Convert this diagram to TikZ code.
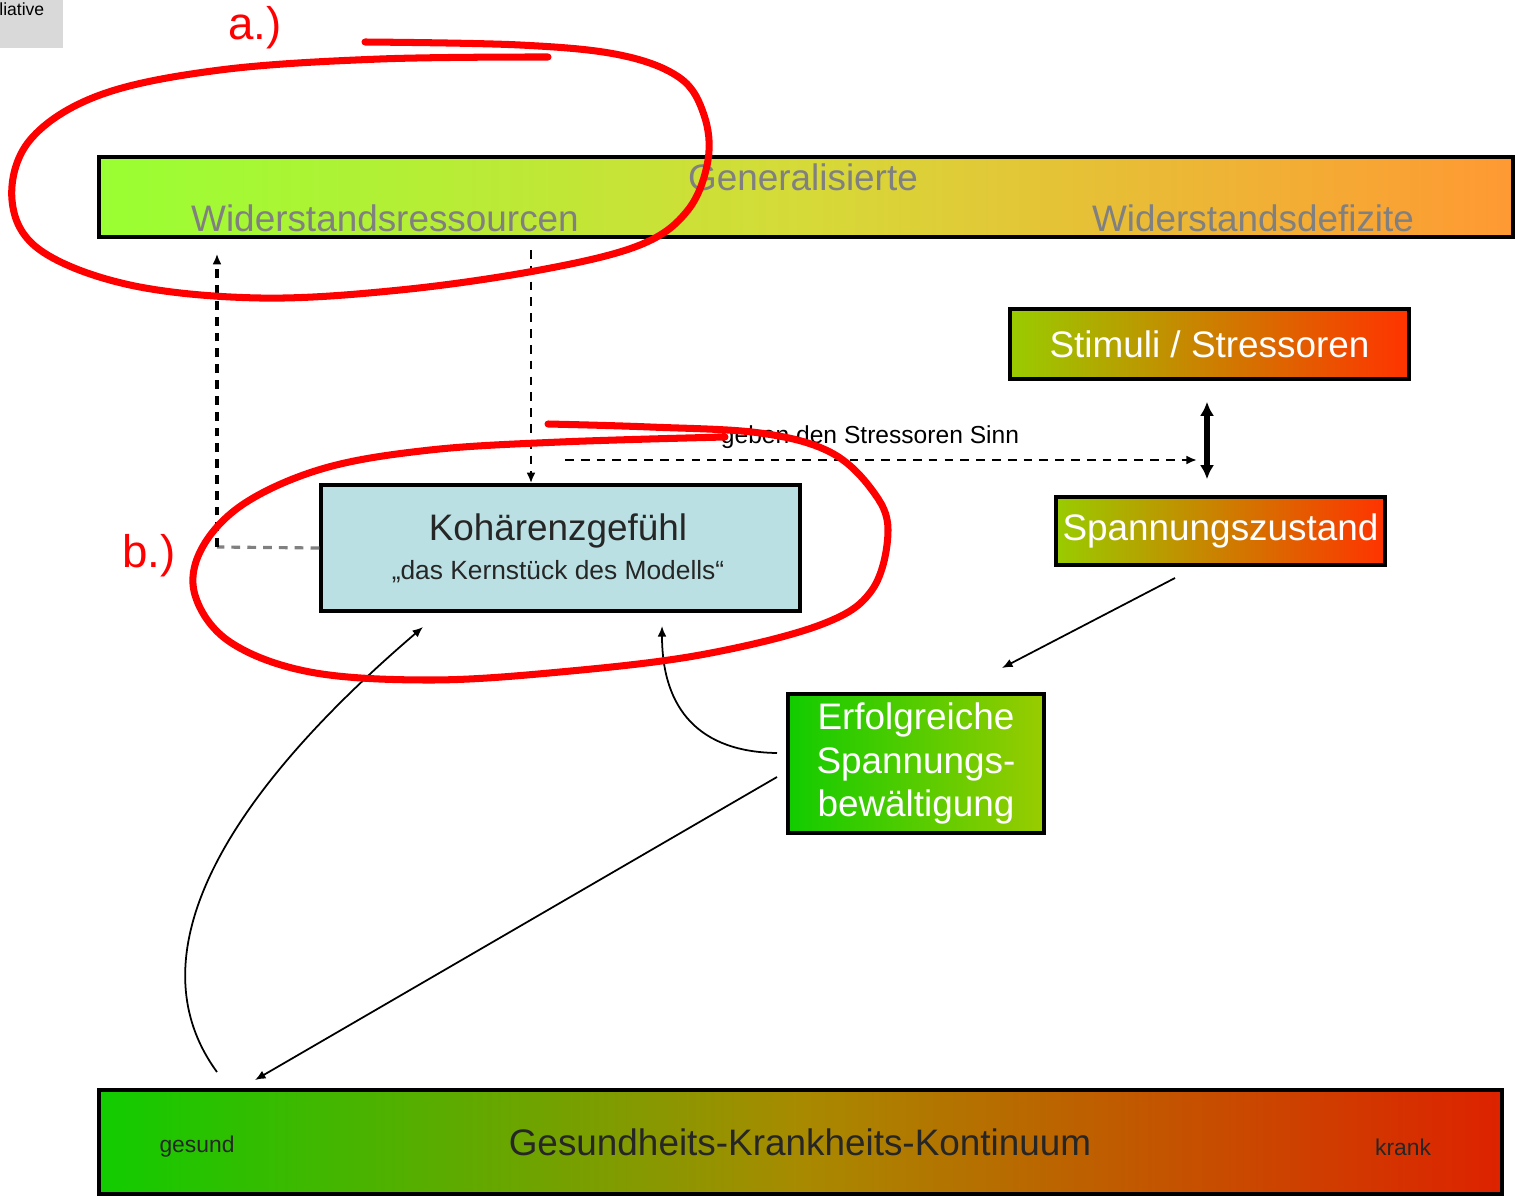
\documentclass[tikz,border=0pt]{standalone}
\usepackage{fontspec}
\setmainfont{Liberation Sans}
\usetikzlibrary{arrows.meta,calc}

\definecolor{barleft}{HTML}{99FF33}
\definecolor{barmid}{HTML}{D6DA38}
\definecolor{barright}{HTML}{FF9933}
\definecolor{stressleft}{HTML}{99CC00}
\definecolor{stressright}{HTML}{FF3300}
\definecolor{okleft}{HTML}{11CC00}
\definecolor{okright}{HTML}{99CC00}
\definecolor{healthmid}{HTML}{A88A00}
\definecolor{sick}{HTML}{DD2200}
\definecolor{coreblue}{HTML}{BAE0E3}
\definecolor{bartext}{HTML}{808080}
\definecolor{markred}{HTML}{FF0000}

\tikzset{
    bar/.style={draw=black, line width=2pt, inner sep=0pt},
    stressbox/.style={bar, left color=stressleft, right color=stressright,
        text=white, font=\fontsize{21}{24}\selectfont},
    dashline/.style={line width=1.8pt, dash pattern=on 5pt off 4pt},
    thinarrow/.style={line width=1pt, -{Latex[length=6pt,width=5pt]}},
    marker/.style={markred, line width=4pt, line cap=round, line join=round}
}

\begin{document}
\begin{tikzpicture}[x=0.02cm, y=-0.02cm]
    \useasboundingbox (0,0) rectangle (1518,1196);

    % Corner label
    \fill[gray!30] (0,0) rectangle (63,48);
    \node[anchor=west, inner sep=0pt, font=\fontsize{10}{12}\selectfont] (corner) at (-1,9) {liative};

    % Boxes
    \node[bar, minimum width=28.28cm, minimum height=1.6cm,
        left color=barleft, right color=barright, middle color=barmid] (ressourcen) at (806,197) {};
    \node[stressbox, minimum width=7.98cm, minimum height=1.4cm] (stimuli) at (1209.5,344) {Stimuli / Stressoren};
    \node[stressbox, minimum width=6.58cm, minimum height=1.36cm] (spannung) at (1220.5,531) {Spannungszustand};
    \node[bar, fill=coreblue, minimum width=9.58cm, minimum height=2.52cm] (kohaerenz) at (560.5,548) {};
    \node[bar, left color=okleft, right color=okright, text=white, align=center,
        minimum width=5.12cm, minimum height=2.78cm,
        font=\fontsize{21}{25}\selectfont] (erfolg) at (916,763.5) {Erfolgreiche\\Spannungs-\\bewältigung};
    \node[bar, left color=okleft, right color=sick, middle color=healthmid,
        minimum width=28.06cm, minimum height=2.08cm] (kontinuum) at (800.5,1142) {};

    % Texts in the boxes
    \node[text=bartext, font=\fontsize{21}{24}\selectfont] (general) at (803,177) {Generalisierte};
    \node[text=bartext, font=\fontsize{21}{24}\selectfont] (widres) at (385,218) {Widerstandsressourcen};
    \node[text=bartext, font=\fontsize{21}{24}\selectfont] (widdef) at (1253,218) {Widerstandsdefizite};
    \node[text=black!85, font=\fontsize{21}{24}\selectfont] (koh) at (558,531) {Kohärenzgefühl};
    \node[text=black!85, font=\fontsize{15}{18}\selectfont] (kern) at (558,572) {„das Kernstück des Modells“};
    \node[text=black!85, font=\fontsize{21}{24}\selectfont] (gkk) at (800,1142) {Gesundheits-Krankheits-Kontinuum};
    \node[text=black!85, font=\fontsize{13}{15}\selectfont] (gesund) at (197,1147) {gesund};
    \node[text=black!85, font=\fontsize{13}{15}\selectfont] (krank) at (1403,1147) {krank};

    % Dashed links
    \coordinate (knick) at (217,547);
    \coordinate (sinnTop) at (531,250);
    \coordinate (sinnStart) at (565,460);
    \coordinate (sinnEnd) at (1197,460);
    \draw[dashline, gray] (kohaerenz.west) -- (knick);
    \draw[dashline, -{Latex[length=6pt,width=5pt]}, shorten >=0.3cm] (knick) -- (knick |- ressourcen.south);
    \draw[dashline, line width=1.4pt, -{Latex[length=6pt,width=5pt]}] (sinnTop) -- (sinnTop |- kohaerenz.north);
    \draw[dashline, line width=1.4pt, -{Latex[length=6pt,width=5pt]}] (sinnStart) -- (sinnEnd);
    \node[font=\fontsize{14}{16}\selectfont] (sinn) at (870,437) {geben den Stressoren Sinn};

    % Stress arrows
    \draw[line width=3pt, {Latex[length=8pt,width=8pt]}-{Latex[length=8pt,width=8pt]},
        shorten <=0.42cm, shorten >=0.32cm] ([xshift=-0.05cm]stimuli.south) -- ([xshift=-0.05cm]stimuli.south |- spannung.north);
    \coordinate (spOut) at (1175,578);
    \coordinate (erIn) at (1002,668);
    \draw[thinarrow] (spOut) -- (erIn);

    % Coping arrows
    \coordinate (erOutA) at (777,753);
    \coordinate (erOutB) at (777,777);
    \coordinate (kohInA) at (662,626);
    \coordinate (kohInB) at (423,627);
    \coordinate (kontIn) at (255,1080);
    \coordinate (kontOut) at (217,1072);
    \draw[thinarrow] (erOutA) .. controls (700,752) and (662,710) .. (kohInA);
    \draw[thinarrow] (erOutB) -- (kontIn);
    \draw[thinarrow] (kontOut) .. controls (135,960) and (215,805) .. (kohInB);

    % Red marks
    \draw[marker] plot[smooth, tension=0.6] coordinates {(365,42) (520,45) (620,55) (680,78) (704,115) (708,160)
        (688,210) (640,245) (540,270) (400,290) (260,298) (130,285) (40,250) (12,200) (30,140) (100,95)
        (220,70) (380,59) (548,57)};
    \draw[marker] plot[smooth, tension=0.6] coordinates {(548,424) (650,427) (760,433) (830,452) (872,490)
        (888,530) (872,590) (820,625) (700,655) (560,672) (430,680) (310,672) (230,642) (195,595)
        (202,548) (245,503) (325,468) (430,450) (560,442) (725,437)};
    \node[text=markred, font=\fontsize{26}{30}\selectfont] (amark) at (255,28) {a.)};
    \node[text=markred, font=\fontsize{26}{30}\selectfont] (bmark) at (149,556) {b.)};
\end{tikzpicture}
\end{document}
